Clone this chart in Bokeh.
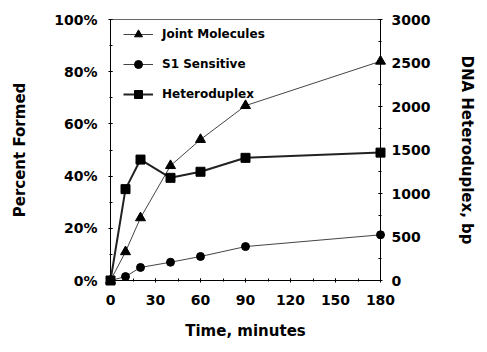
from bokeh.plotting import figure
from bokeh.models import (LinearAxis, Range1d, FixedTicker, Legend, LegendItem)
from bokeh.embed import file_html
from bokeh.resources import INLINE

# ---- data ----
time_min = [0, 10, 20, 40, 60, 90, 180]
joint_pct = [0, 11, 24, 44, 54, 67, 84]
s1_pct = [0, 1.5, 5, 7, 9.2, 13, 17.5]
hetero_bp = [0, 1050, 1390, 1180, 1250, 1410, 1470]

x_ticks = [0, 30, 60, 90, 120, 150, 180]
pct_ticks = [0, 20, 40, 60, 80, 100]
pct_tick_labels = ["0%", "20%", "40%", "60%", "80%", "100%"]
bp_ticks = [0, 500, 1000, 1500, 2000, 2500, 3000]

FONT = "DejaVu Sans"

p = figure(width=479, height=344, output_backend="svg", toolbar_location=None,
           x_range=Range1d(0, 180), y_range=Range1d(0, 100),
           min_border_left=110, min_border_right=98, min_border_top=19,
           min_border_bottom=64, background_fill_color="white",
           border_fill_color="white")
p.grid.visible = False
p.outline_line_color = "#666666"
p.outline_line_width = 1

p.extra_y_ranges = {"bp": Range1d(0, 3000)}
raxis = LinearAxis(y_range_name="bp")
p.add_layout(raxis, "right")

def style_axis(ax):
    ax.axis_line_color = "black"
    ax.axis_line_width = 1
    ax.major_tick_line_color = "black"
    ax.minor_tick_line_color = "black"
    ax.major_tick_in = 2
    ax.major_tick_out = 2
    ax.minor_tick_in = 2
    ax.minor_tick_out = 1
    ax.major_label_text_font = FONT
    ax.major_label_text_font_style = "bold"
    ax.major_label_text_font_size = "14px"
    ax.major_label_text_color = "black"
    ax.axis_label_text_font = FONT
    ax.axis_label_text_font_style = "bold"
    ax.axis_label_text_font_size = "15px"
    ax.axis_label_text_color = "black"

xa = p.xaxis[0]
ya = p.yaxis[0]
for ax in (xa, ya, raxis):
    style_axis(ax)

xa.ticker = FixedTicker(ticks=x_ticks, minor_ticks=list(range(0, 181, 15)))
xa.axis_label = "Time, minutes"
xa.major_label_standoff = 12
xa.axis_label_standoff = 14

ya.ticker = FixedTicker(ticks=pct_ticks, minor_ticks=list(range(0, 101, 10)))
ya.major_label_overrides = {t: l for t, l in zip(pct_ticks, pct_tick_labels)}
ya.axis_label = "Percent Formed"
ya.major_label_standoff = 11
ya.axis_label_standoff = 22

raxis.ticker = FixedTicker(ticks=bp_ticks, minor_ticks=list(range(0, 3001, 250)))
raxis.axis_label = "DNA Heteroduplex, bp"
raxis.major_label_standoff = 9
raxis.axis_label_standoff = 25

# ---- series ----
jl = p.line(time_min, joint_pct, line_color="#444444", line_width=1)
js = p.scatter(time_min, joint_pct, marker="triangle", size=10,
               fill_color="black", line_color="black", level="overlay")

sl = p.line(time_min, s1_pct, line_color="#444444", line_width=1)
ss = p.scatter(time_min, s1_pct, marker="circle", size=8,
               fill_color="black", line_color="black", level="overlay")

hl = p.line(time_min, hetero_bp, y_range_name="bp", line_color="#222222",
            line_width=2)
hs = p.scatter(time_min, hetero_bp, y_range_name="bp", marker="square",
               size=9, fill_color="black", line_color="black", level="overlay")

legend = Legend(items=[
    LegendItem(label="Joint Molecules", renderers=[jl, js]),
    LegendItem(label="S1 Sensitive", renderers=[sl, ss]),
    LegendItem(label="Heteroduplex", renderers=[hl, hs]),
], location=(13, 176), padding=0, margin=0, spacing=10,
    glyph_width=30, glyph_height=20, label_height=20, label_standoff=9,
    label_text_font=FONT, label_text_font_style="bold",
    label_text_font_size="12px", label_text_color="black",
    border_line_color=None, background_fill_alpha=0)
p.add_layout(legend, "center")

open("out.html", "w").write(file_html(p, INLINE))
